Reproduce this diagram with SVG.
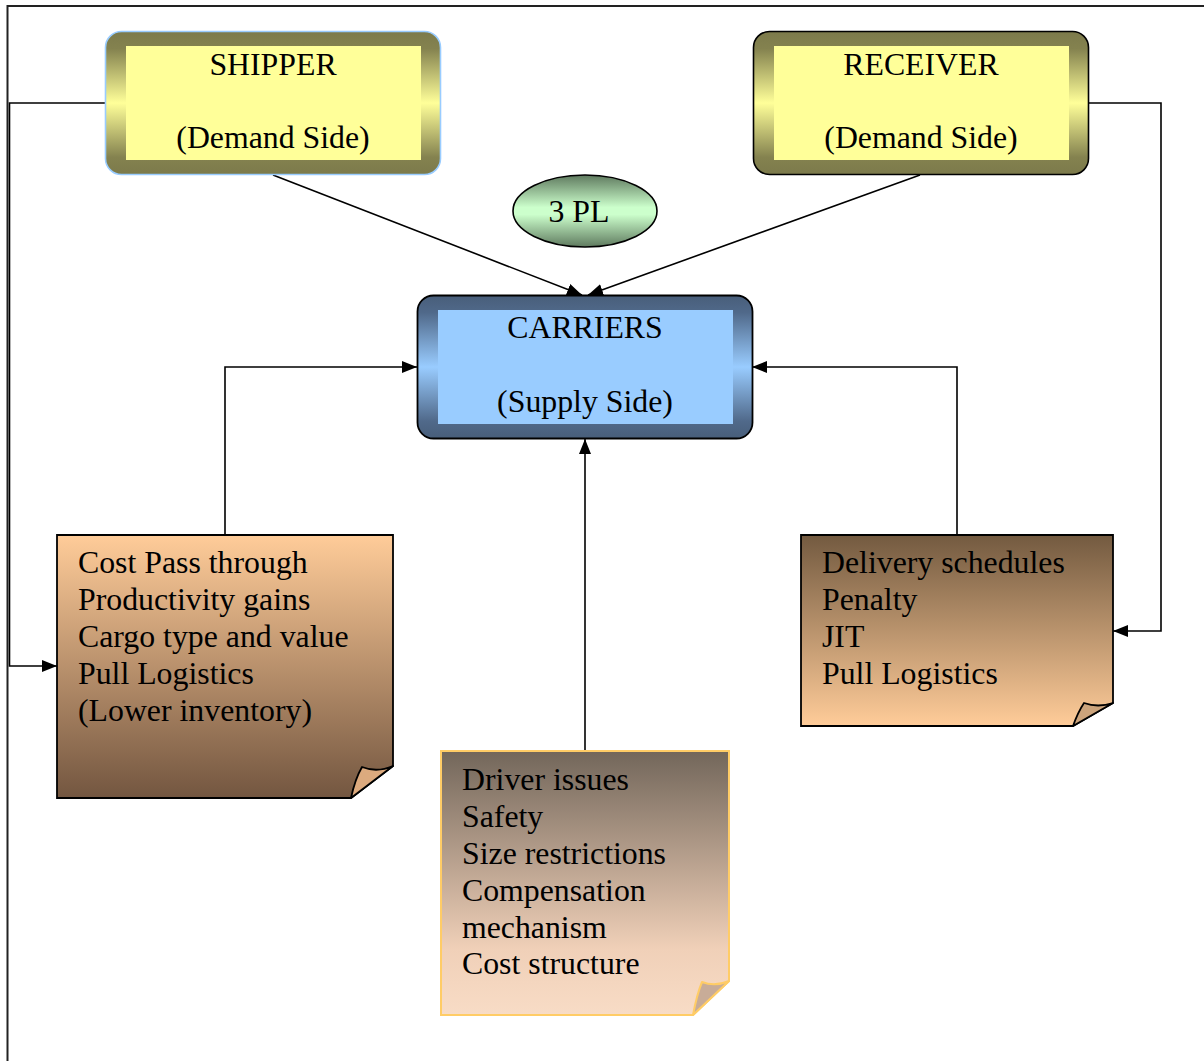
<svg xmlns="http://www.w3.org/2000/svg" width="1204" height="1061" viewBox="0 0 1204 1061">
  <style>
    text { font-family: "Liberation Serif", "Times New Roman", serif; font-size: 31.8px; fill: #000; }
    .mid { text-anchor: middle; }
    .conn { fill: none; stroke: #000; stroke-width: 1.6; }
    .frame { fill: none; stroke: #222; stroke-width: 2; }
  </style>
  <defs>
    <linearGradient id="olive" x1="0" y1="0" x2="0" y2="1">
      <stop offset="0" stop-color="#7c7a4b"/>
      <stop offset="0.12" stop-color="#84824f"/>
      <stop offset="0.5" stop-color="#ffff99"/>
      <stop offset="0.88" stop-color="#84824f"/>
      <stop offset="1" stop-color="#7c7a4b"/>
    </linearGradient>
    <linearGradient id="steel" x1="0" y1="0" x2="0" y2="1">
      <stop offset="0" stop-color="#485e7a"/>
      <stop offset="0.12" stop-color="#50698a"/>
      <stop offset="0.5" stop-color="#99ccff"/>
      <stop offset="0.88" stop-color="#50698a"/>
      <stop offset="1" stop-color="#485e7a"/>
    </linearGradient>
    <linearGradient id="mint" x1="0" y1="0" x2="0" y2="1">
      <stop offset="0" stop-color="#5f7a5f"/>
      <stop offset="0.45" stop-color="#ccffcc"/>
      <stop offset="0.55" stop-color="#ccffcc"/>
      <stop offset="1" stop-color="#5f7a5f"/>
    </linearGradient>
    <linearGradient id="tanDown" x1="0" y1="0" x2="0" y2="1">
      <stop offset="0" stop-color="#ffcc99"/>
      <stop offset="1" stop-color="#735640"/>
    </linearGradient>
    <linearGradient id="tanUp" x1="0" y1="0" x2="0" y2="1">
      <stop offset="0" stop-color="#735a40"/>
      <stop offset="1" stop-color="#ffcc99"/>
    </linearGradient>
    <linearGradient id="sand" x1="0" y1="0" x2="0" y2="1">
      <stop offset="0" stop-color="#72665a"/>
      <stop offset="0.75" stop-color="#f0d0b8"/>
      <stop offset="1" stop-color="#f8dcc6"/>
    </linearGradient>
    <marker id="arrow" viewBox="0 0 15 12" refX="15" refY="6" markerWidth="15" markerHeight="12" markerUnits="userSpaceOnUse" orient="auto">
      <path d="M0,0 L15,6 L0,12 Z" fill="#000"/>
    </marker>
  </defs>

  <!-- page frame -->
  <path class="frame" d="M1204,6 H7.5 V1061"/>

  <g id="connectors">
    <path class="conn" d="M273,175 L582,295" marker-end="url(#arrow)"/>
    <path class="conn" d="M920,175 L588,295" marker-end="url(#arrow)"/>
    <path class="conn" d="M225,535 V367 H417" marker-end="url(#arrow)"/>
    <path class="conn" d="M957,535 V367 H752" marker-end="url(#arrow)"/>
    <path class="conn" d="M585,751 V439" marker-end="url(#arrow)"/>
    <path class="conn" d="M105,103 H9.5 V666 H57" marker-end="url(#arrow)"/>
    <path class="conn" d="M1089,103 H1161 V631 H1113" marker-end="url(#arrow)"/>
  </g>

  <g id="shipper">
    <rect x="105.5" y="31.5" width="335" height="143" rx="16" fill="url(#olive)" stroke="#99ccff" stroke-width="1.6"/>
    <rect x="126" y="46" width="295" height="114" fill="#ffff99"/>
    <text class="mid" x="273" y="75">SHIPPER</text>
    <text class="mid" x="273" y="148">(Demand Side)</text>
  </g>

  <g id="receiver">
    <rect x="753.5" y="31.5" width="335" height="143" rx="16" fill="url(#olive)" stroke="#000" stroke-width="1.6"/>
    <rect x="774" y="46" width="295" height="114" fill="#ffff99"/>
    <text class="mid" x="921" y="75">RECEIVER</text>
    <text class="mid" x="921" y="148">(Demand Side)</text>
  </g>

  <g id="third-party">
    <ellipse cx="585" cy="211" rx="72" ry="36" fill="url(#mint)" stroke="#000" stroke-width="1.6"/>
    <text class="mid" x="579" y="222">3 PL</text>
  </g>

  <g id="carriers">
    <rect x="417.5" y="295.5" width="335" height="143" rx="16" fill="url(#steel)" stroke="#000" stroke-width="1.8"/>
    <rect x="438" y="310" width="295" height="114" fill="#99ccff"/>
    <text class="mid" x="585" y="338">CARRIERS</text>
    <text class="mid" x="585" y="412">(Supply Side)</text>
  </g>

  <g id="shipper-factors">
    <path d="M57,535 H393 V766 L351,798 H57 Z" fill="url(#tanDown)" stroke="#000" stroke-width="1.8"/>
    <path d="M351,798 Q355,779 362,767 Q377,773 393,766 Z" fill="#dcaa7e" stroke="#000" stroke-width="1.8" stroke-linejoin="round"/>
    <text x="78" y="573">Cost Pass through</text>
    <text x="78" y="610">Productivity gains</text>
    <text x="78" y="647">Cargo type and value</text>
    <text x="78" y="684">Pull Logistics</text>
    <text x="78" y="721">(Lower inventory)</text>
  </g>

  <g id="receiver-factors">
    <path d="M801,535 H1113 V703 L1073,726 H801 Z" fill="url(#tanUp)" stroke="#000" stroke-width="1.8"/>
    <path d="M1073,726 Q1078,712 1084,703 Q1098,708 1113,703 Z" fill="#cca47c" stroke="#000" stroke-width="1.8" stroke-linejoin="round"/>
    <text x="822" y="573">Delivery schedules</text>
    <text x="822" y="610">Penalty</text>
    <text x="822" y="647">JIT</text>
    <text x="822" y="684">Pull Logistics</text>
  </g>

  <g id="carrier-factors">
    <path d="M441,751 H729 V981 L693,1015 H441 Z" fill="url(#sand)" stroke="#ffcc66" stroke-width="2"/>
    <path d="M693,1015 Q697,994 702,982 Q715,987 729,981 Z" fill="#c8ac98" stroke="#ffcc66" stroke-width="2" stroke-linejoin="round"/>
    <text x="462" y="790">Driver issues</text>
    <text x="462" y="827">Safety</text>
    <text x="462" y="864">Size restrictions</text>
    <text x="462" y="901">Compensation</text>
    <text x="462" y="938">mechanism</text>
    <text x="462" y="974">Cost structure</text>
  </g>
</svg>
